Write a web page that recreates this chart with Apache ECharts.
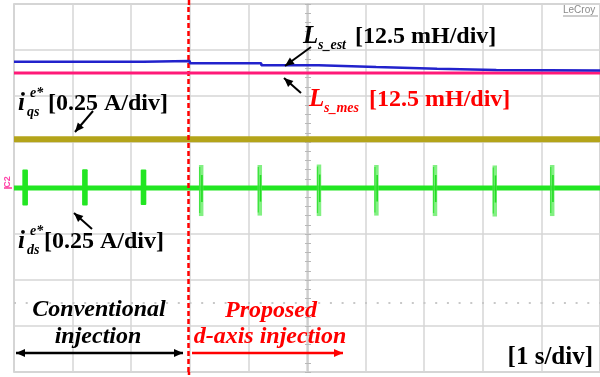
<!DOCTYPE html>
<html><head><meta charset="utf-8">
<script src="https://cdn.jsdelivr.net/npm/echarts@6/dist/echarts.min.js"></script>
<style>html,body{margin:0;padding:0;background:#fff}#c{width:600px;height:377px}</style>
</head><body><div id="c"></div>
<script>
// time in s (1 s/div), values in divisions
const lsEstTime  = [0, 2.21, 3.0, 4.22, 5.2, 6.18, 7.22, 8.23, 10];
const lsEstValue = [2.746, 2.76, 2.711, 2.667, 2.630, 2.594, 2.565, 2.555, 2.55];
const lsMesTime  = [0, 10];
const lsMesValue = [2.5, 2.5];
const iqsTime    = [0, 10];
const iqsValue   = [1.06, 1.06];
const idsTime    = [0, 10];
const idsValue   = [0, 0];
const convSpikeTime = [0.19, 1.21, 2.21];
const convSpikeHigh = [0.40, 0.41, 0.40];
const convSpikeLow  = [-0.38, -0.38, -0.37];
const propSpikeTime = [3.19, 4.19, 5.2, 6.18, 7.18, 8.2, 9.18];
const propSpikeHigh = [0.50, 0.50, 0.51, 0.50, 0.50, 0.49, 0.50];
const propSpikeLow  = [-0.61, -0.60, -0.61, -0.60, -0.61, -0.62, -0.61];
const switchTime = 2.98;
const refLevel = -2.5;

const pair = (xs, ys) => xs.map((x, i) => [x, ys[i]]);
const serif = '"Liberation Serif","Times New Roman",serif';

function txt(x, y, text, size, color, italic, align) {
  return { type: 'text', x: x, y: y, z: 100, style: {
    text: text, fill: color, fontFamily: serif, fontWeight: 'bold',
    fontStyle: italic ? 'italic' : 'normal', fontSize: size,
    align: align || 'left', verticalAlign: 'middle',
    textAlign: align || 'left', textVerticalAlign: 'middle' } };
}
function arrow(x1, y1, x2, y2, color, w, both) {
  const els = [{ type: 'line', z: 100, shape: { x1, y1, x2, y2 }, style: { stroke: color, lineWidth: w } }];
  const head = (tx, ty, fx, fy) => {
    const dx = tx - fx, dy = ty - fy, L = Math.hypot(dx, dy), ux = dx / L, uy = dy / L;
    const hl = 9, hw = 4;
    const bx = tx - ux * hl, by = ty - uy * hl;
    return { type: 'polygon', z: 101, shape: { points: [[tx, ty], [bx - uy * hw, by + ux * hw], [bx + uy * hw, by - ux * hw]] }, style: { fill: color } };
  };
  els.push(head(x2, y2, x1, y1));
  if (both) els.push(head(x1, y1, x2, y2));
  return els;
}

const chart = echarts.init(document.getElementById('c'), null, { renderer: 'canvas' });
const gridLine = { show: true, lineStyle: { color: '#d6d6d6', width: 1.5 } };
const option = {
  animation: false,
  backgroundColor: '#fff',
  grid: { left: 14, top: 4, width: 588, height: 368, show: true, borderColor: '#c4c4c4', borderWidth: 1.5, backgroundColor: 'transparent' },
  xAxis: [{ type: 'value', min: 0, max: 10, interval: 1, axisLabel: { show: false }, axisTick: { show: false }, axisLine: { show: false }, splitLine: gridLine }],
  yAxis: [
    { type: 'value', min: -4, max: 4, interval: 1, axisLabel: { show: false }, axisTick: { show: false }, axisLine: { show: false }, splitLine: gridLine },
    { type: 'value', min: -4, max: 4, interval: 0.2, position: 'left', offset: -294, axisLabel: { show: false },
      axisLine: { show: true, lineStyle: { color: '#c8c8c8', width: 1.5 } }, axisTick: { show: true, inside: true, length: 3, lineStyle: { color: '#b8b8b8' } }, splitLine: { show: false } },
    { type: 'value', min: -4, max: 4, interval: 0.2, position: 'left', offset: -294, axisLabel: { show: false },
      axisLine: { show: false }, axisTick: { show: true, inside: false, length: 3, lineStyle: { color: '#b8b8b8' } }, splitLine: { show: false } }
  ],
  series: [
    { name: 'ref', type: 'line', data: [], silent: true,
      markLine: { silent: true, symbol: 'none', label: { show: false },
        data: [{ yAxis: refLevel, lineStyle: { color: '#c8c8c8', width: 2, type: [2, 9.7] } }] } },
    { name: 'iqs', type: 'line', data: pair(iqsTime, iqsValue), showSymbol: false, lineStyle: { color: '#b4a41a', width: 6 }, z: 3 },
    { name: 'ids', type: 'line', data: pair(idsTime, idsValue), showSymbol: false, lineStyle: { color: '#22e622', width: 5 }, z: 3 },
    { name: 'convSpikes', type: 'custom', z: 4,
      data: convSpikeTime.map((t, i) => [t, convSpikeHigh[i], convSpikeLow[i]]),
      encode: { x: 0, y: [1, 2] },
      renderItem: (p, api) => {
        const a = api.coord([api.value(0), api.value(1)]), b = api.coord([api.value(0), api.value(2)]);
        return { type: 'rect', shape: { x: a[0] - 2.8, y: a[1], width: 5.6, height: b[1] - a[1], r: 1 }, style: { fill: '#22e622' } };
      } },
    { name: 'propSpikes', type: 'custom', z: 4,
      data: propSpikeTime.map((t, i) => [t, propSpikeHigh[i], propSpikeLow[i]]),
      encode: { x: 0, y: [1, 2] },
      renderItem: (p, api) => {
        const a = api.coord([api.value(0), api.value(1)]), b = api.coord([api.value(0), api.value(2)]);
        return { type: 'group', children: [
          { type: 'rect', shape: { x: a[0] - 2, y: a[1], width: 4.5, height: b[1] - a[1] }, style: { fill: 'rgba(90,235,90,0.75)' } },
          { type: 'line', shape: { x1: a[0] - 1.2, y1: a[1] + 2, x2: a[0] - 1.2, y2: b[1] - 3 }, style: { stroke: 'rgba(50,225,50,0.9)', lineWidth: 1.2 } },
          { type: 'line', shape: { x1: a[0] + 1, y1: a[1] + 10, x2: a[0] + 1, y2: b[1] - 14 }, style: { stroke: '#22dd22', lineWidth: 1.6 } }
        ] };
      } },
    { name: 'lsMes', type: 'line', data: pair(lsMesTime, lsMesValue), showSymbol: false, lineStyle: { color: '#ff1a78', width: 3 }, z: 5 },
    { name: 'lsEst', type: 'line', step: 'end', data: pair(lsEstTime, lsEstValue), showSymbol: false, lineStyle: { color: '#2222cc', width: 2.5 }, z: 6 },
    { name: 'switch', type: 'line', data: [], z: 8,
      markLine: { silent: true, symbol: 'none', label: { show: false },
        data: [{ xAxis: switchTime, lineStyle: { color: '#ff0000', width: 2.5, type: [5, 3] } }] } }
  ],
  graphic: [].concat(
    [txt(303, 37, 'L', 25, '#000', true), txt(318, 45, 's_est', 14, '#000', true), txt(355, 37, '[12.5 mH/div]', 24, '#000', false)],
    [txt(309, 100, 'L', 25, '#ff0000', true), txt(324, 108, 's_mes', 14, '#ff0000', true), txt(369, 100, '[12.5 mH/div]', 24, '#ff0000', false)],
    [txt(18, 104, 'i', 25, '#000', true), txt(30, 93, 'e*', 14, '#000', true), txt(27, 112, 'qs', 14, '#000', true), txt(48, 104, '[0.25 A/div]', 24, '#000', false)],
    [txt(18, 242, 'i', 25, '#000', true), txt(30, 231, 'e*', 14, '#000', true), txt(27, 250, 'ds', 14, '#000', true), txt(44, 242, '[0.25 A/div]', 24, '#000', false)],
    [txt(99, 310, 'Conventional', 24, '#000', true, 'center'), txt(98, 337, 'injection', 24, '#000', true, 'center')],
    [txt(271, 311, 'Proposed', 24, '#ff0000', true, 'center'), txt(270, 337, 'd-axis injection', 24, '#ff0000', true, 'center')],
    [txt(593, 358, '[1 s/div]', 25, '#000', false, 'right')],
    [{ type: 'text', x: 563, y: 10, z: 100, style: { text: 'LeCroy', fill: '#8a8a8a', fontFamily: 'Liberation Sans, Arial, sans-serif', fontSize: 10, verticalAlign: 'middle', textVerticalAlign: 'middle' } },
     { type: 'line', z: 100, shape: { x1: 563, y1: 16, x2: 598, y2: 16 }, style: { stroke: '#9a9a9a', lineWidth: 1 } },
     { type: 'text', x: 8, y: 182, rotation: Math.PI / 2, z: 100, style: { text: 'C2', fill: '#ff44aa', fontFamily: 'Liberation Sans, Arial, sans-serif', fontSize: 9, fontWeight: 'bold', align: 'center', verticalAlign: 'middle', textAlign: 'center', textVerticalAlign: 'middle' } },
     { type: 'line', z: 100, shape: { x1: 4, y1: 188, x2: 12, y2: 188 }, style: { stroke: '#ff3399', lineWidth: 1.5 } },
     { type: 'line', z: 90, shape: { x1: 189, y1: 0, x2: 189, y2: 5 }, style: { stroke: '#ff0000', lineWidth: 2.5 } },
     { type: 'line', z: 90, shape: { x1: 189, y1: 372, x2: 189, y2: 377 }, style: { stroke: '#ff0000', lineWidth: 2.5, lineDash: [3, 2] } }],
    arrow(311, 47, 285, 66, '#000', 2),
    arrow(301, 93, 284, 78, '#000', 2),
    arrow(93, 111, 75, 132, '#000', 2),
    arrow(92, 229, 74, 213, '#000', 2),
    arrow(16, 353, 183, 353, '#000', 2.5, true),
    arrow(192, 353, 343, 353, '#ff0000', 2.5)
  )
};
chart.setOption(option);
</script></body></html>
